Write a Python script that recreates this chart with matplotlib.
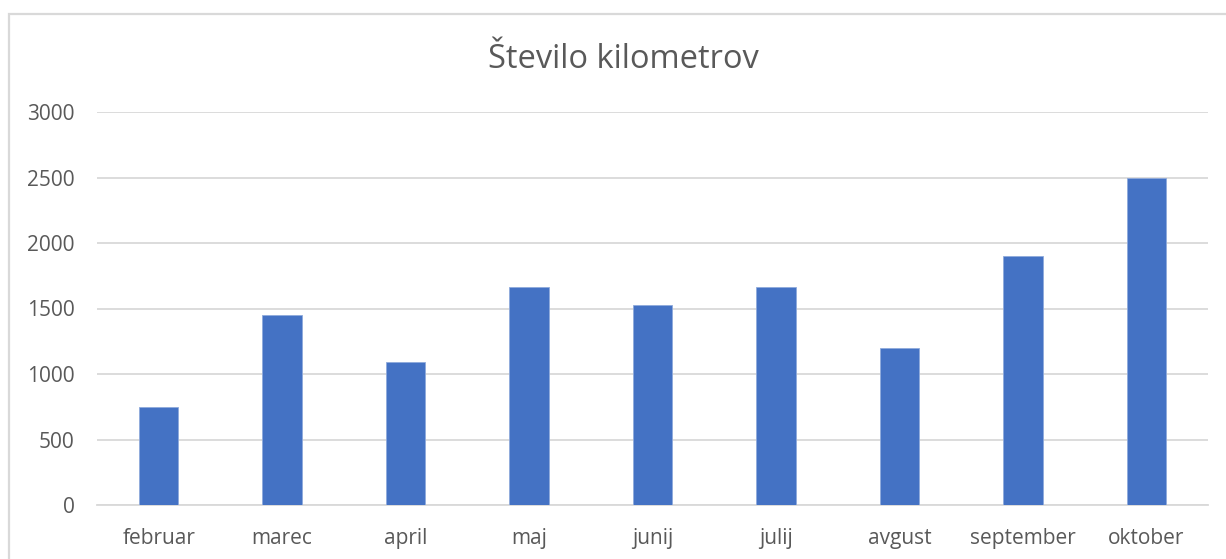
import numpy as np
import matplotlib
matplotlib.use("Agg")
import matplotlib.pyplot as plt
from matplotlib.patches import Rectangle

months = ['februar', 'marec', 'april', 'maj', 'junij', 'julij', 'avgust', 'september', 'oktober']
km = [748, 1450, 1090, 1665, 1530, 1662, 1198, 1897, 2500]
yticks = [0, 500, 1000, 1500, 2000, 2500, 3000]

plt.rcParams['font.family'] = ['Open Sans', 'DejaVu Sans']

fig = plt.figure(figsize=(12.26, 5.59), dpi=100)
ax = fig.add_axes([97 / 1226, 1 - 505 / 559, (1208 - 97) / 1226, (505 - 112) / 559])

# chart border (light gray, runs off the right/bottom of the image)
fig.patches.append(Rectangle((9 / 1226, -0.05), 1.2, 1 - 14 / 559 + 0.05,
                             transform=fig.transFigure, fill=False,
                             edgecolor='#d9d9d9', linewidth=1.6))

x = np.arange(len(months))
ax.bar(x, km, width=0.32, color='#4472c4', edgecolor='#8faadc', linewidth=0.6, zorder=3)

ax.set_xlim(-0.5, len(months) - 0.5)
ax.set_ylim(0, 3000)
ax.set_yticks(yticks)
ax.set_yticklabels([str(v) for v in yticks])
ax.set_xticks(x)
ax.set_xticklabels(months)

ax.grid(axis='y', color='#d9d9d9', linewidth=1.3, zorder=0)
ax.set_axisbelow(True)
for s in ['top', 'right', 'left']:
    ax.spines[s].set_visible(False)
ax.spines['bottom'].set_color('#d9d9d9')
ax.spines['bottom'].set_linewidth(1.3)

ax.tick_params(axis='both', length=0, labelsize=15, colors='#595959')
ax.tick_params(axis='y', pad=16)
ax.tick_params(axis='x', pad=16.5)

fig.text(623 / 1226, 1 - 59 / 559, 'Število kilometrov', ha='center', va='center',
         fontsize=23.5, color='#595959')

fig.savefig('out.png', dpi=100)
